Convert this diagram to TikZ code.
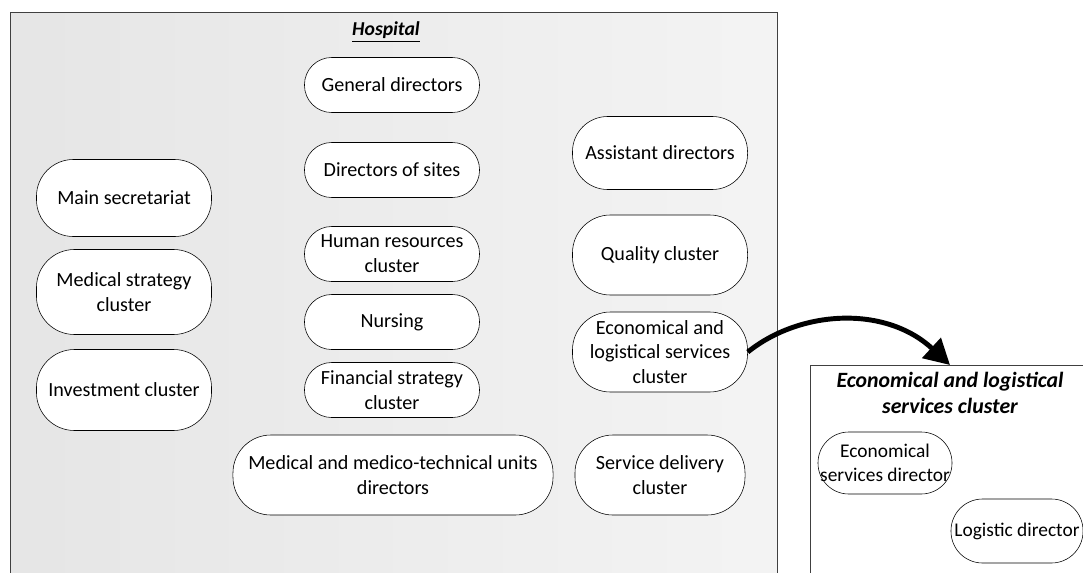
\documentclass[tikz,border=0pt]{standalone}
\usepackage{fontspec}
\setmainfont{Carlito}
\usepackage{tikz}
\usetikzlibrary{arrows.meta}

\tikzset{
  unit/.style={draw, fill=white, rounded corners=0.68cm, align=center, inner sep=1pt,
    minimum width=4.375cm, minimum height=1.375cm, font=\fontsize{14.3}{17.7}\selectfont},
  tall/.style={minimum height=2cm, rounded corners=0.95cm},
  small/.style={inner sep=0pt, font=\fontsize{13.8}{17.5}\selectfont},
  frame/.style={draw=black!75, line width=0.6pt},
  title/.style={font=\fontsize{14}{18}\selectfont\bfseries\itshape, align=center}
}

\begin{document}
\begin{tikzpicture}[x=0.025cm, y=-0.025cm]
  \useasboundingbox (0,0) rectangle (1083,572);
  \clip (0,0) rectangle (1083,572);
  % hospital frame
  \shade[left color=gray!20, right color=gray!9] (10,12) rectangle (777,590);
  \draw[frame] (10,12) rectangle (777,590);
  \node[title] (hosp) at (386,32) {\underline{Hospital}};

  % middle column
  \node[unit] (gen) at (392,85) {General directors};
  \node[unit] (sites) at (392,170) {Directors of sites};
  \node[unit] (hr) at (392,254) {Human resources\\cluster};
  \node[unit] (nurs) at (392,322) {Nursing};
  \node[unit] (fin) at (392,390) {Financial strategy\\cluster};
  \node[unit, tall, minimum width=8cm] (med) at (393,475) {Medical and medico-technical units\\directors};

  % left column
  \node[unit, tall, minimum height=1.925cm, rounded corners=0.92cm] (sec) at (124,198) {Main secretariat};
  \node[unit, tall, minimum height=2.125cm] (strat) at (124,292) {Medical strategy\\cluster};
  \node[unit, tall, minimum height=2.025cm] (inv) at (124,390) {Investment cluster};

  % right column
  \node[unit, tall, minimum height=1.825cm, rounded corners=0.88cm] (assist) at (660,153) {Assistant directors};
  \node[unit, tall] (qual) at (660,255) {Quality cluster};
  \node[unit, tall] (els) at (660,352) {Economical and\\logistical services\\cluster};
  \node[unit, tall, minimum width=4.25cm] (deliv) at (660,475) {Service delivery\\cluster};

  %%%%%%%%%%%%%%%%%%%%%%%%%%%%%%%%%%%
  % economical and logistical services cluster
  \draw[frame, fill=white] (810,365) rectangle (1100,600);
  \coordinate (elsTop) at (950,365);
  \node[title, font=\fontsize{15.5}{18.5}\selectfont\bfseries\itshape] (elsTitle) at (950,393) {Economical and logistical\\services cluster};
  \node[unit, small, minimum width=3.35cm, minimum height=1.55cm, rounded corners=0.77cm] (eco) at (885,463) {Economical\\services director};
  \node[unit, small, minimum width=3.3cm, minimum height=1.6cm, rounded corners=0.79cm] (logi) at (1017,531) {Logistic director};

  \draw[line width=3.5pt, -{Triangle[length=18pt, width=19pt]}] (els.east)
    .. controls (800,310) and (885,305) .. (elsTop);
\end{tikzpicture}
\end{document}
